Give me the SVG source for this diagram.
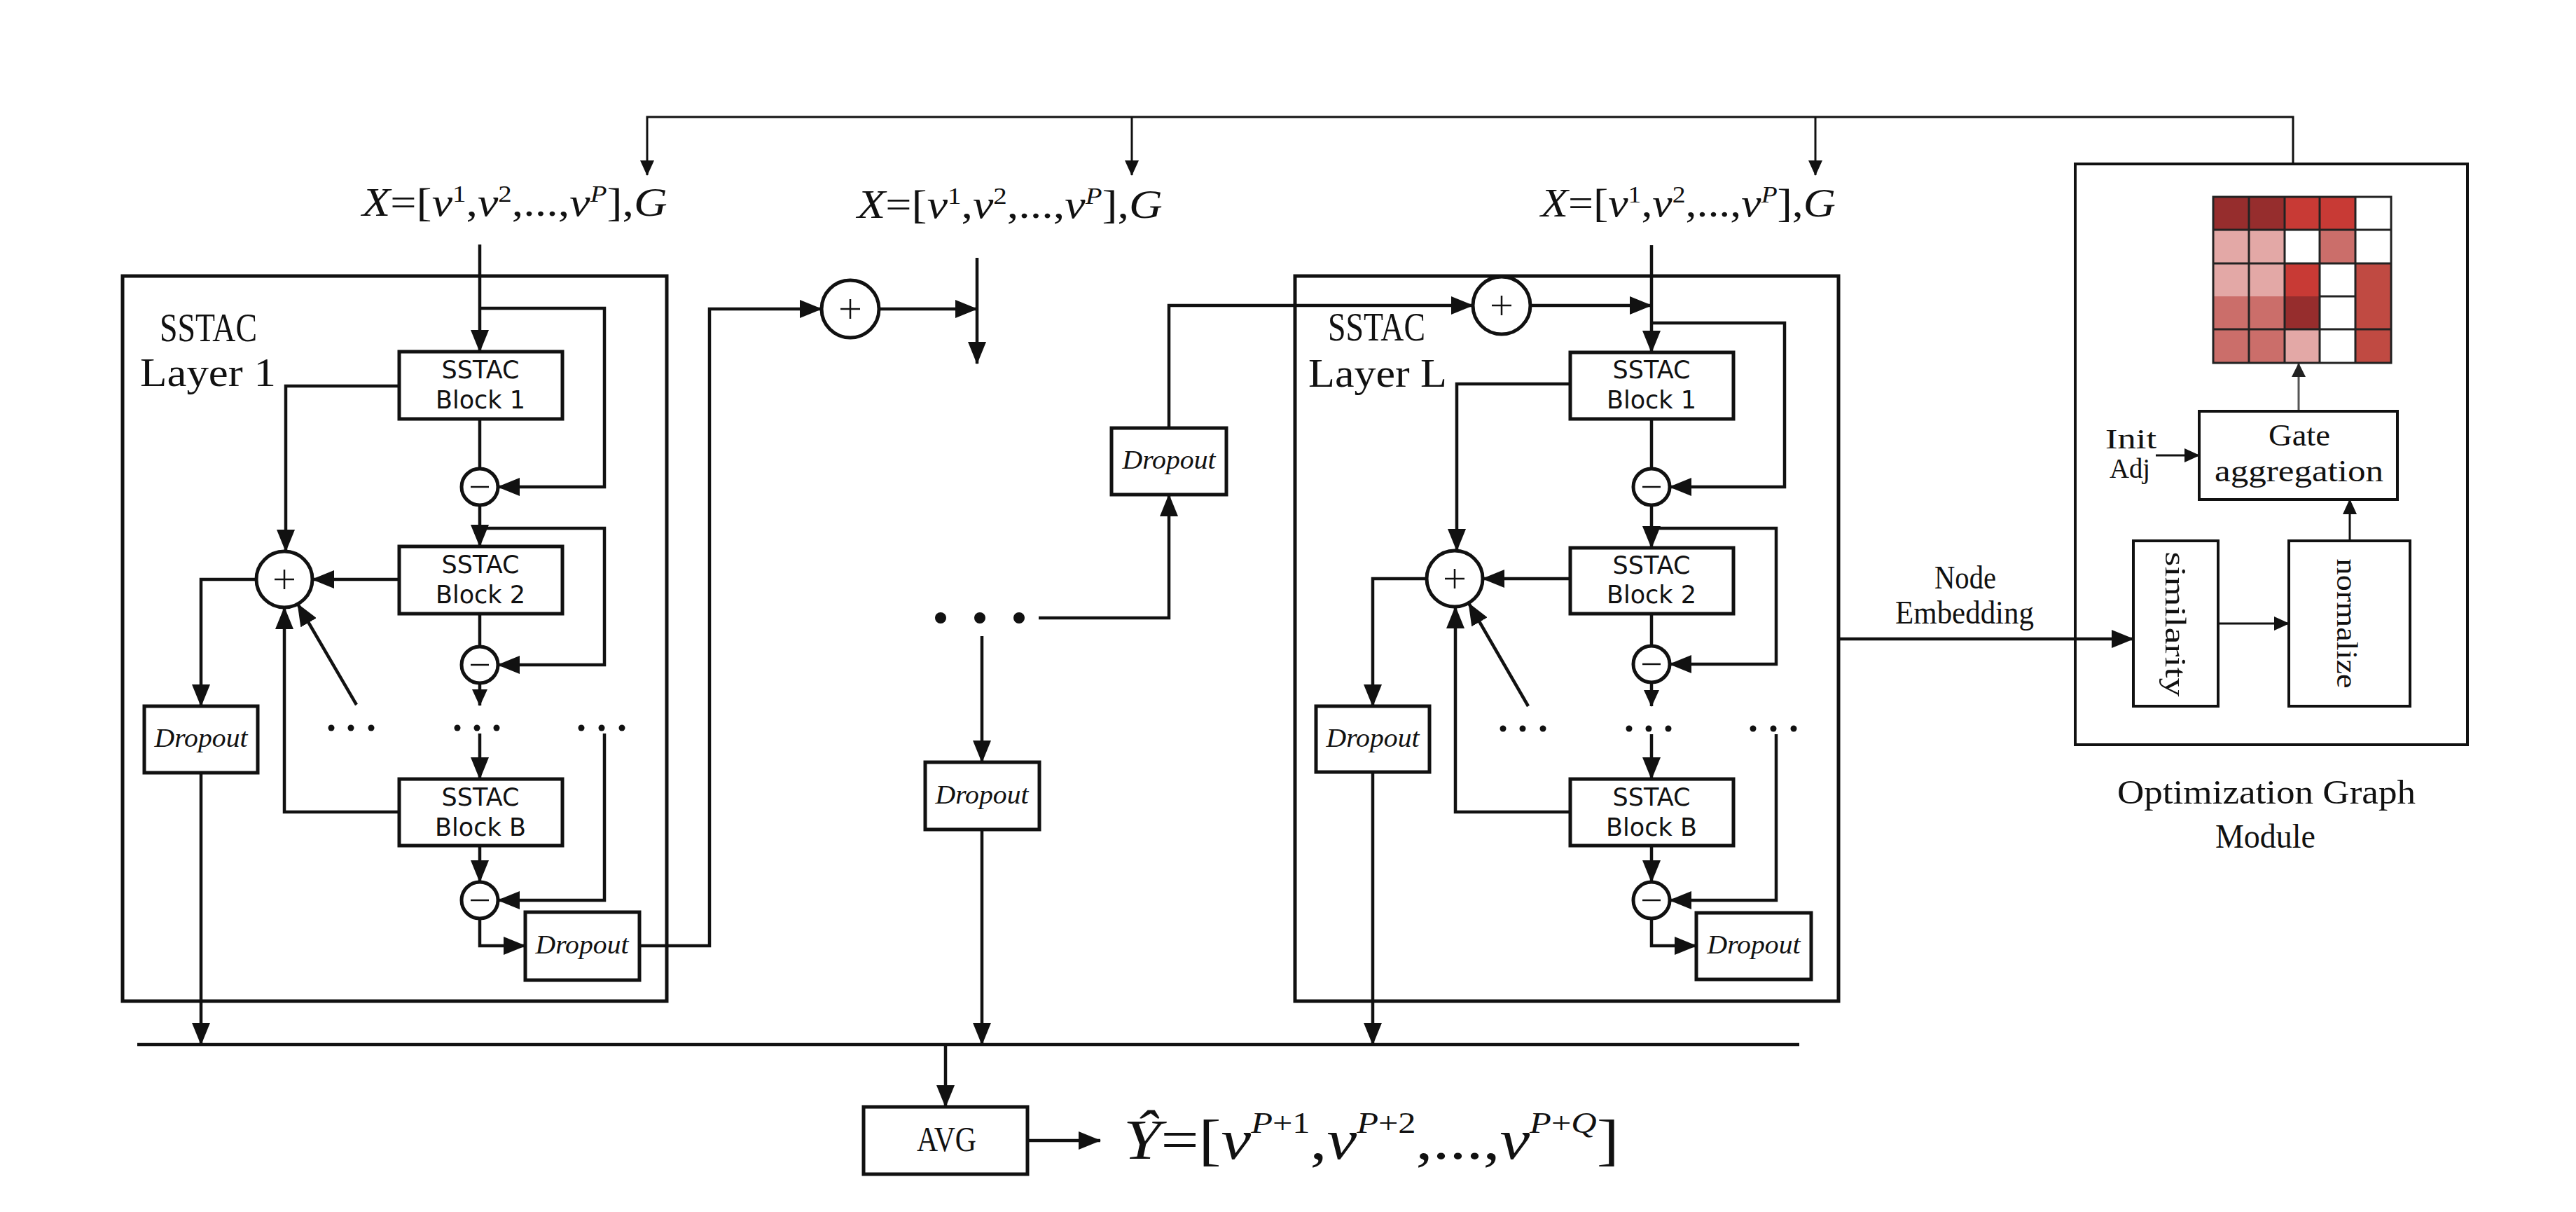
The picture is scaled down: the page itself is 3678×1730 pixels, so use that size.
<svg xmlns="http://www.w3.org/2000/svg" width="3678" height="1730" viewBox="0 0 3678 1730">
<style>
.ln{fill:none;stroke:#111;stroke-width:4.5}
.tn{fill:none;stroke:#111;stroke-width:3}
.lay{fill:none;stroke:#111;stroke-width:5}
.bx{fill:#fff;stroke:#111;stroke-width:5}
.mb{fill:#fff;stroke:#111;stroke-width:4}
.op{fill:#fff;stroke:#111;stroke-width:5}
.sg{fill:none;stroke:#111;stroke-width:2.5}
.bt{font-family:"DejaVu Sans",sans-serif;font-size:35px;fill:#111;text-anchor:middle}
.dp{font-family:"Liberation Serif",serif;font-style:italic;font-size:38px;fill:#111;text-anchor:middle}
.ss{font-family:"Liberation Serif",serif;fill:#111}
.m{font-family:"Liberation Serif",serif;fill:#111}
.i{font-style:italic}
.gl{fill:none;stroke:#222;stroke-width:3}
</style>
<defs>
<marker id="a" markerUnits="userSpaceOnUse" markerWidth="32" markerHeight="26" refX="31" refY="13" orient="auto"><path d="M0,0 L32,13 L0,26 z" fill="#111"/></marker>
<marker id="am" markerUnits="userSpaceOnUse" markerWidth="24" markerHeight="22" refX="23" refY="11" orient="auto"><path d="M0,0 L24,11 L0,22 z" fill="#111"/></marker>
<marker id="as" markerUnits="userSpaceOnUse" markerWidth="22" markerHeight="20" refX="21" refY="10" orient="auto"><path d="M0,0 L22,10 L0,20 z" fill="#111"/></marker>
<marker id="ag" markerUnits="userSpaceOnUse" markerWidth="20" markerHeight="20" refX="19" refY="10" orient="auto"><path d="M0,0 L20,10 L0,20 z" fill="#222"/></marker>
</defs>

<!-- layer frames -->
<g id="layer1-frame"><rect class="lay" x="175" y="394" width="777" height="1035"/></g>
<g id="layerL-frame"><rect class="lay" x="1849" y="394" width="776" height="1035"/></g>
<g id="module-frame"><rect class="lay" x="2963" y="234" width="560" height="829" style="stroke-width:4"/></g>

<g id="connectors">
<!-- top feedback from module -->
<path class="tn" d="M3274,234 V167 H924 V250" marker-end="url(#as)"/>
<path class="tn" d="M1616,167 V250" marker-end="url(#as)"/>
<path class="tn" d="M2592,167 V250" marker-end="url(#as)"/>
<!-- layer 1 -->
<path class="ln" d="M685,349 V502" marker-end="url(#a)"/>
<path class="ln" d="M685,440 H863 V695 H711" marker-end="url(#a)"/>
<path class="ln" d="M685,598 V669"/>
<path class="ln" d="M685,721 V780" marker-end="url(#a)"/>
<path class="ln" d="M685,754 H863 V949 H711" marker-end="url(#a)"/>
<path class="ln" d="M685,876 V923"/>
<path class="ln" d="M685,975 V1007" marker-end="url(#am)"/>
<path class="ln" d="M685,1047 V1112" marker-end="url(#a)"/>
<path class="ln" d="M863,1047 V1285 H711" marker-end="url(#a)"/>
<path class="ln" d="M685,1207 V1259" marker-end="url(#a)"/>
<path class="ln" d="M685,1311 V1350 H750" marker-end="url(#a)"/>
<path class="ln" d="M913,1350 H1013 V441 H1173" marker-end="url(#a)"/>
<path class="ln" d="M570,551 H408 V787" marker-end="url(#a)"/>
<path class="ln" d="M570,827 H446" marker-end="url(#a)"/>
<path class="ln" d="M570,1159 H406 V867" marker-end="url(#a)"/>
<path class="ln" d="M509,1006 L425,862" marker-end="url(#a)"/>
<path class="ln" d="M366,827 H287 V1008" marker-end="url(#a)"/>
<path class="ln" d="M287,1103 V1491" marker-end="url(#a)"/>
<!-- middle -->
<path class="ln" d="M1255,441 H1395" marker-end="url(#a)"/>
<path class="ln" d="M1395,368 V519" marker-end="url(#a)"/>
<path class="ln" d="M1483,882 H1669 V706" marker-end="url(#a)"/>
<path class="ln" d="M1669,611 V436 H2103" marker-end="url(#a)"/>
<path class="ln" d="M1402,908 V1088" marker-end="url(#a)"/>
<path class="ln" d="M1402,1184 V1491" marker-end="url(#a)"/>
<path class="ln" d="M196,1491 H2569"/>
<path class="ln" d="M1350,1491 V1580" marker-end="url(#a)"/>
<path class="ln" d="M1467,1628 H1571" marker-end="url(#a)"/>
<!-- layer L -->
<path class="ln" d="M2358,350 V503" marker-end="url(#a)"/>
<path class="ln" d="M2185,436 H2358" marker-end="url(#a)"/>
<path class="ln" d="M2358,461 H2548 V695 H2384" marker-end="url(#a)"/>
<path class="ln" d="M2358,598 V669"/>
<path class="ln" d="M2358,721 V782" marker-end="url(#a)"/>
<path class="ln" d="M2358,754 H2536 V948 H2384" marker-end="url(#a)"/>
<path class="ln" d="M2358,876 V922"/>
<path class="ln" d="M2358,974 V1008" marker-end="url(#am)"/>
<path class="ln" d="M2358,1048 V1112" marker-end="url(#a)"/>
<path class="ln" d="M2536,1048 V1285 H2384" marker-end="url(#a)"/>
<path class="ln" d="M2358,1207 V1259" marker-end="url(#a)"/>
<path class="ln" d="M2358,1311 V1350 H2422" marker-end="url(#a)"/>
<path class="ln" d="M2242,548 H2080 V786" marker-end="url(#a)"/>
<path class="ln" d="M2242,826 H2117" marker-end="url(#a)"/>
<path class="ln" d="M2242,1159 H2078 V866" marker-end="url(#a)"/>
<path class="ln" d="M2182,1008 L2097,861" marker-end="url(#a)"/>
<path class="ln" d="M2037,826 H1960 V1008" marker-end="url(#a)"/>
<path class="ln" d="M1960,1102 V1491" marker-end="url(#a)"/>
<!-- node embedding -->
<path class="ln" d="M2625,912 H3046" marker-end="url(#a)"/>
<!-- module internals -->
<path d="M3282,587 V519" fill="none" stroke="#555" stroke-width="3" marker-end="url(#ag)"/>
<path class="tn" d="M3078,650 H3140" marker-end="url(#as)"/>
<path class="tn" d="M3167,890 H3268" marker-end="url(#as)"/>
<path class="tn" d="M3355,772 V713" marker-end="url(#as)"/>
</g>

<!-- input formulas -->
<g id="input1">
<text class="m" font-size="56" transform="translate(517,308) scale(1.18,1)"><tspan class="i">X</tspan>=[<tspan class="i">v</tspan><tspan dy="-20" font-size="33">1</tspan><tspan dy="20">,</tspan><tspan class="i">v</tspan><tspan dy="-20" font-size="33">2</tspan><tspan dy="20">,...,</tspan><tspan class="i">v</tspan><tspan dy="-20" font-size="33" class="i">P</tspan><tspan dy="20">],</tspan><tspan class="i">G</tspan></text>
</g>
<g id="input2">
<text class="m" font-size="56" transform="translate(1224,311) scale(1.18,1)"><tspan class="i">X</tspan>=[<tspan class="i">v</tspan><tspan dy="-20" font-size="33">1</tspan><tspan dy="20">,</tspan><tspan class="i">v</tspan><tspan dy="-20" font-size="33">2</tspan><tspan dy="20">,...,</tspan><tspan class="i">v</tspan><tspan dy="-20" font-size="33" class="i">P</tspan><tspan dy="20">],</tspan><tspan class="i">G</tspan></text>
</g>
<g id="input3">
<text class="m" font-size="56" transform="translate(2200,309) scale(1.14,1)"><tspan class="i">X</tspan>=[<tspan class="i">v</tspan><tspan dy="-20" font-size="33">1</tspan><tspan dy="20">,</tspan><tspan class="i">v</tspan><tspan dy="-20" font-size="33">2</tspan><tspan dy="20">,...,</tspan><tspan class="i">v</tspan><tspan dy="-20" font-size="33" class="i">P</tspan><tspan dy="20">],</tspan><tspan class="i">G</tspan></text>
</g>

<!-- Layer 1 nodes -->
<g id="layer1-label">
<text class="ss" font-size="56" x="228" y="487" textLength="139" lengthAdjust="spacingAndGlyphs">SSTAC</text>
<text class="ss" font-size="56" x="200" y="551" textLength="194" lengthAdjust="spacingAndGlyphs">Layer 1</text>
</g>
<g id="l1-block1"><rect class="bx" x="570" y="502" width="233" height="96"/><text class="bt" x="686" y="540">SSTAC</text><text class="bt" x="686" y="583">Block 1</text></g>
<g id="l1-block2"><rect class="bx" x="570" y="780" width="233" height="96"/><text class="bt" x="686" y="818">SSTAC</text><text class="bt" x="686" y="861">Block 2</text></g>
<g id="l1-blockB"><rect class="bx" x="570" y="1112" width="233" height="95"/><text class="bt" x="686" y="1150">SSTAC</text><text class="bt" x="686" y="1193">Block B</text></g>
<g id="l1-plus"><circle class="op" cx="406" cy="827" r="40"/><path class="sg" d="M392,827 H420 M406,813 V841"/></g>
<g id="l1-minus1"><circle class="op" cx="685" cy="695" r="26"/><path class="sg" d="M672,695 H698"/></g>
<g id="l1-minus2"><circle class="op" cx="685" cy="949" r="26"/><path class="sg" d="M672,949 H698"/></g>
<g id="l1-minus3"><circle class="op" cx="685" cy="1285" r="26"/><path class="sg" d="M672,1285 H698"/></g>
<g id="l1-dropout-a"><rect class="bx" x="206" y="1008" width="162" height="95"/><text class="dp" x="287" y="1066" textLength="133" lengthAdjust="spacingAndGlyphs">Dropout</text></g>
<g id="l1-dropout-b"><rect class="bx" x="750" y="1302" width="163" height="97"/><text class="dp" x="831" y="1361" textLength="133" lengthAdjust="spacingAndGlyphs">Dropout</text></g>
<g id="l1-dots" fill="#111">
<circle cx="473" cy="1039" r="4.5"/><circle cx="501" cy="1039" r="4.5"/><circle cx="530" cy="1039" r="4.5"/>
<circle cx="653" cy="1039" r="4.5"/><circle cx="681" cy="1039" r="4.5"/><circle cx="709" cy="1039" r="4.5"/>
<circle cx="830" cy="1039" r="4.5"/><circle cx="859" cy="1039" r="4.5"/><circle cx="888" cy="1039" r="4.5"/>
</g>

<!-- middle nodes -->
<g id="mid-plus"><circle class="op" cx="1214" cy="441" r="41"/><path class="sg" d="M1200,441 H1228 M1214,427 V455"/></g>
<g id="mid-dots" fill="#111"><circle cx="1343" cy="882" r="8"/><circle cx="1399" cy="882" r="8"/><circle cx="1455" cy="882" r="8"/></g>
<g id="mid-dropout-top"><rect class="bx" x="1587" y="611" width="164" height="95"/><text class="dp" x="1669" y="669" textLength="133" lengthAdjust="spacingAndGlyphs">Dropout</text></g>
<g id="mid-dropout-bottom"><rect class="bx" x="1321" y="1088" width="163" height="96"/><text class="dp" x="1402" y="1147" textLength="133" lengthAdjust="spacingAndGlyphs">Dropout</text></g>
<g id="avg"><rect class="bx" x="1233" y="1580" width="234" height="96"/><text class="ss" font-size="50" x="1309" y="1643" textLength="85" lengthAdjust="spacingAndGlyphs">AVG</text></g>
<g id="output">
<text class="m" font-size="80" transform="translate(1604,1654) scale(1.2,1)"><tspan class="i">Ŷ</tspan>=[<tspan class="i">v</tspan><tspan dy="-37" font-size="42"><tspan class="i">P</tspan>+1</tspan><tspan dy="37">,</tspan><tspan class="i">v</tspan><tspan dy="-37" font-size="42"><tspan class="i">P</tspan>+2</tspan><tspan dy="37">,...,</tspan><tspan class="i">v</tspan><tspan dy="-37" font-size="42"><tspan class="i">P</tspan>+<tspan class="i">Q</tspan></tspan><tspan dy="37">]</tspan></text>
</g>

<!-- Layer L nodes -->
<g id="layerL-label">
<text class="ss" font-size="56" x="1896" y="486" textLength="139" lengthAdjust="spacingAndGlyphs">SSTAC</text>
<text class="ss" font-size="56" x="1868" y="552" textLength="198" lengthAdjust="spacingAndGlyphs">Layer L</text>
</g>
<g id="lL-plus-top"><circle class="op" cx="2144" cy="436" r="41"/><path class="sg" d="M2130,436 H2158 M2144,422 V450"/></g>
<g id="lL-block1"><rect class="bx" x="2242" y="503" width="233" height="95"/><text class="bt" x="2358" y="540">SSTAC</text><text class="bt" x="2358" y="583">Block 1</text></g>
<g id="lL-block2"><rect class="bx" x="2242" y="782" width="233" height="94"/><text class="bt" x="2358" y="819">SSTAC</text><text class="bt" x="2358" y="861">Block 2</text></g>
<g id="lL-blockB"><rect class="bx" x="2242" y="1112" width="233" height="95"/><text class="bt" x="2358" y="1150">SSTAC</text><text class="bt" x="2358" y="1193">Block B</text></g>
<g id="lL-plus"><circle class="op" cx="2077" cy="826" r="40"/><path class="sg" d="M2063,826 H2091 M2077,812 V840"/></g>
<g id="lL-minus1"><circle class="op" cx="2358" cy="695" r="26"/><path class="sg" d="M2345,695 H2371"/></g>
<g id="lL-minus2"><circle class="op" cx="2358" cy="948" r="26"/><path class="sg" d="M2345,948 H2371"/></g>
<g id="lL-minus3"><circle class="op" cx="2358" cy="1285" r="26"/><path class="sg" d="M2345,1285 H2371"/></g>
<g id="lL-dropout-a"><rect class="bx" x="1879" y="1008" width="162" height="94"/><text class="dp" x="1960" y="1066" textLength="133" lengthAdjust="spacingAndGlyphs">Dropout</text></g>
<g id="lL-dropout-b"><rect class="bx" x="2422" y="1303" width="164" height="95"/><text class="dp" x="2504" y="1361" textLength="133" lengthAdjust="spacingAndGlyphs">Dropout</text></g>
<g id="lL-dots" fill="#111">
<circle cx="2146" cy="1040" r="4.5"/><circle cx="2174" cy="1040" r="4.5"/><circle cx="2203" cy="1040" r="4.5"/>
<circle cx="2326" cy="1040" r="4.5"/><circle cx="2354" cy="1040" r="4.5"/><circle cx="2382" cy="1040" r="4.5"/>
<circle cx="2503" cy="1040" r="4.5"/><circle cx="2532" cy="1040" r="4.5"/><circle cx="2561" cy="1040" r="4.5"/>
</g>

<g id="node-embedding-label">
<text class="ss" font-size="46" x="2762" y="840" textLength="88" lengthAdjust="spacingAndGlyphs">Node</text>
<text class="ss" font-size="46" x="2706" y="890" textLength="198" lengthAdjust="spacingAndGlyphs">Embedding</text>
</g>

<!-- optimization graph module -->
<g id="adj-matrix">
<rect x="3160" y="281" width="51" height="47" fill="#962D2D"/><rect x="3211" y="281" width="51" height="47" fill="#962D2D"/><rect x="3262" y="281" width="50" height="47" fill="#C83A35"/><rect x="3312" y="281" width="51" height="47" fill="#C83A35"/><rect x="3363" y="281" width="51" height="47" fill="#fff"/>
<rect x="3160" y="328" width="51" height="48" fill="#E3A8A6"/><rect x="3211" y="328" width="51" height="48" fill="#E3A8A6"/><rect x="3262" y="328" width="50" height="48" fill="#fff"/><rect x="3312" y="328" width="51" height="48" fill="#CB6E6A"/><rect x="3363" y="328" width="51" height="48" fill="#fff"/>
<rect x="3160" y="376" width="51" height="47" fill="#E3A8A6"/><rect x="3211" y="376" width="51" height="47" fill="#E3A8A6"/><rect x="3262" y="376" width="50" height="47" fill="#C83A35"/><rect x="3312" y="376" width="51" height="47" fill="#fff"/><rect x="3363" y="376" width="51" height="94" fill="#C04A42"/>
<rect x="3160" y="423" width="51" height="47" fill="#CB6E6A"/><rect x="3211" y="423" width="51" height="47" fill="#CB6E6A"/><rect x="3262" y="423" width="50" height="47" fill="#962D2D"/><rect x="3312" y="423" width="51" height="47" fill="#fff"/>
<rect x="3160" y="470" width="51" height="48" fill="#CB6E6A"/><rect x="3211" y="470" width="51" height="48" fill="#CB6E6A"/><rect x="3262" y="470" width="50" height="48" fill="#E3A8A6"/><rect x="3312" y="470" width="51" height="48" fill="#fff"/><rect x="3363" y="470" width="51" height="48" fill="#C04A42"/>
<rect class="gl" x="3160" y="281" width="254" height="237"/>
<path class="gl" d="M3211,281 V518 M3262,281 V518 M3312,281 V518 M3363,281 V518 M3160,328 H3414 M3160,376 H3414 M3160,470 H3414 M3312,423 H3363"/>
</g>
<g id="gate-aggregation"><rect class="mb" x="3140" y="587" width="283" height="126"/>
<text class="ss" font-size="45" x="3239" y="636" textLength="88" lengthAdjust="spacingAndGlyphs">Gate</text>
<text class="ss" font-size="45" x="3162" y="687" textLength="241" lengthAdjust="spacingAndGlyphs">aggregation</text></g>
<g id="init-adj">
<text class="ss" font-size="39" x="3006" y="640" textLength="73" lengthAdjust="spacingAndGlyphs">Init</text>
<text class="ss" font-size="39" x="3012" y="682" textLength="58" lengthAdjust="spacingAndGlyphs">Adj</text>
</g>
<g id="similarity"><rect class="mb" x="3046" y="772" width="121" height="236"/>
<text class="ss" font-size="43" text-anchor="middle" transform="translate(3102,891) rotate(90)" x="0" y="10" textLength="207" lengthAdjust="spacingAndGlyphs">similarity</text></g>
<g id="normalize"><rect class="mb" x="3268" y="772" width="173" height="236"/>
<text class="ss" font-size="43" text-anchor="middle" transform="translate(3347,890) rotate(90)" x="0" y="10" textLength="185" lengthAdjust="spacingAndGlyphs">normalize</text></g>
<g id="module-label">
<text class="ss" font-size="49" x="3023" y="1147" textLength="426" lengthAdjust="spacingAndGlyphs">Optimization Graph</text>
<text class="ss" font-size="49" x="3163" y="1210" textLength="143" lengthAdjust="spacingAndGlyphs">Module</text>
</g>
</svg>
